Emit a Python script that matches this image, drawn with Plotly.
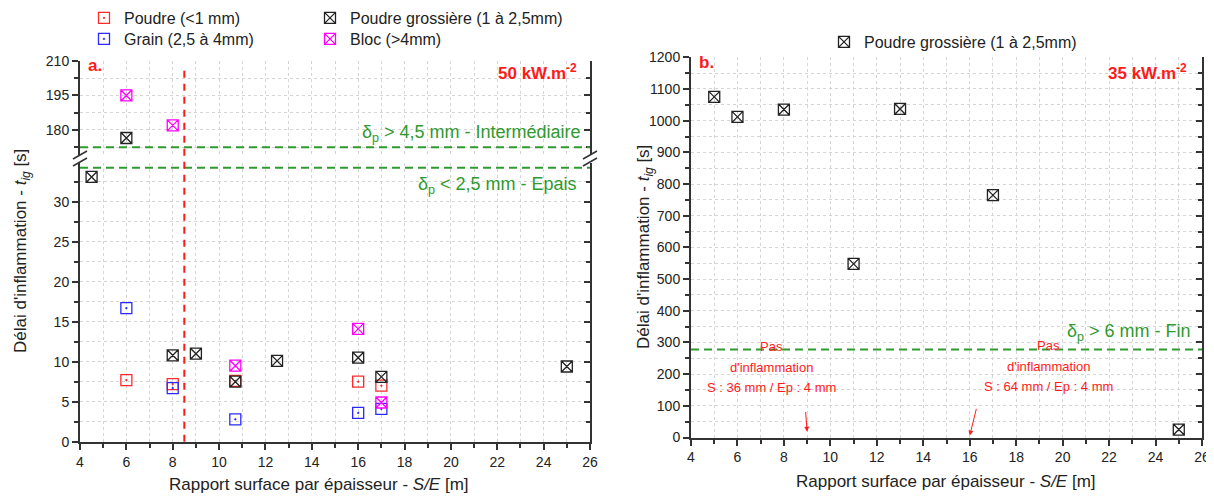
import plotly.graph_objects as go

# ---------------- data ----------------
# Panel a (50 kW.m-2)
poudre_x = [6, 8, 10.7, 16, 17]
poudre_y = [7.7, 7.2, 7.6, 7.5, 7.0]
grain_x = [6, 8, 10.7, 16, 17]
grain_y = [16.7, 6.7, 2.8, 3.6, 4.1]
grossiere_x = [4.5, 6, 8, 9, 10.7, 12.5, 16, 17, 25]
grossiere_y = [33.1, 176.5, 10.8, 11.0, 7.5, 10.1, 10.5, 8.1, 9.4]
bloc_x = [6, 8, 10.7, 16, 17]
bloc_y = [195, 182, 9.5, 14.1, 4.9]
# Panel b (35 kW.m-2)
b_x = [5, 6, 8, 11, 13, 17, 25]
b_y = [1075, 1012, 1035, 548, 1037, 765, 25]

x_ticks = [4, 6, 8, 10, 12, 14, 16, 18, 20, 22, 24, 26]
break_value = 100  # values above go on the upper (broken) segment
limit_a_upper = 172.5   # δp > 4,5 mm
limit_a_lower = 34.25   # δp < 2,5 mm
limit_b = 278           # δp > 6 mm
critical_x = 8.5

# page body has an 8px margin: figure is shifted, so map page pixels accordingly
OFF = 8
W, H = 1214 - OFF, 497 - OFF
def PX(x):
    return (x - OFF) / W
def PY(y):
    return 1 - (y - OFF) / H

FONT = "Liberation Sans, Arial, sans-serif"
GREEN = "#2f9a2f"
RED = "#ff1a1a"
GRID = "#d4d4d4"
AX = "#333333"

fig = go.Figure()

series = [
    ("Poudre (<1 mm)", poudre_x, poudre_y, "square-open-dot", "#ff2a2a", "legend"),
    ("Grain (2,5 à 4mm)", grain_x, grain_y, "square-open-dot", "#2a2aff", "legend4"),
    ("Poudre grossière (1 à 2,5mm)", grossiere_x, grossiere_y, "square-x-open", "#222222", "legend3"),
    ("Bloc (>4mm)", bloc_x, bloc_y, "square-x-open", "#ff00ff", "legend5"),
]
for name, xs, ys, sym, col, leg in series:
    lx = [x for x, y in zip(xs, ys) if y < break_value]
    ly = [y for y in ys if y < break_value]
    ux = [x for x, y in zip(xs, ys) if y >= break_value]
    uy = [y for y in ys if y >= break_value]
    fig.add_trace(go.Scatter(x=lx, y=ly, mode="markers", name=name, legend=leg,
                             marker=dict(symbol=sym, size=11, color=col, line=dict(width=1.3, color=col)),
                             xaxis="x", yaxis="y"))
    fig.add_trace(go.Scatter(x=ux, y=uy, mode="markers", name=name, showlegend=False,
                             marker=dict(symbol=sym, size=11, color=col, line=dict(width=1.3, color=col)),
                             xaxis="x", yaxis="y3"))

fig.add_trace(go.Scatter(x=b_x, y=b_y, mode="markers", name="Poudre grossière (1 à 2,5mm)",
                         legend="legend2",
                         marker=dict(symbol="square-x-open", size=11, color="#222222",
                                     line=dict(width=1.3, color="#222222")),
                         xaxis="x2", yaxis="y2"))

# empty traces to activate the mirrored right-side axes
for ya, xa in (("y4", "x"), ("y5", "x"), ("y6", "x2")):
    fig.add_trace(go.Scatter(x=[], y=[], xaxis=xa, yaxis=ya, showlegend=False, hoverinfo="skip"))

tickfont = dict(family=FONT, size=14, color="#222")

def xax(domain, anchor):
    return dict(domain=domain, range=[4, 26], anchor=anchor, tickvals=x_ticks,
                ticks="outside", ticklen=6, tickwidth=1.5, tickcolor=AX,
                showline=True, linecolor=AX, linewidth=2, zeroline=False,
                showgrid=True, gridcolor=GRID, griddash="dot", gridwidth=1,
                minor=dict(dtick=1, tick0=4, ticks="outside", ticklen=4, tickwidth=1.5, tickcolor=AX,
                           showgrid=True, gridcolor=GRID, griddash="dot"),
                tickfont=tickfont, fixedrange=True)

def yax(domain, rng, anchor, tick0, dtick, mdtick):
    return dict(domain=domain, range=rng, anchor=anchor, tick0=tick0, dtick=dtick,
                ticks="outside", ticklen=6, tickwidth=1.5, tickcolor=AX,
                showline=True, linecolor=AX, linewidth=2, zeroline=False,
                showgrid=True, gridcolor=GRID, griddash="dot", gridwidth=1,
                minor=dict(dtick=mdtick, tick0=tick0, ticks="outside", ticklen=4, tickwidth=1.5,
                           tickcolor=AX, showgrid=True, gridcolor=GRID, griddash="dot"),
                tickfont=tickfont, fixedrange=True)

def yright(over, rng, anchor, tick0, dtick, mdtick):
    return dict(overlaying=over, side="right", anchor=anchor, range=rng, tick0=tick0, dtick=dtick,
                ticks="inside", ticklen=6, tickwidth=1.5, tickcolor=AX, showticklabels=False,
                showline=True, linecolor=AX, linewidth=2, zeroline=False, showgrid=False,
                minor=dict(dtick=mdtick, tick0=tick0, ticks="inside", ticklen=4, tickwidth=1.5,
                           tickcolor=AX, showgrid=False), fixedrange=True)

lower_rng = [0, 34.84]
upper_rng = [169.1, 210]
b_rng = [0, 1200]

def leg(x, ytop):
    return dict(x=PX(x), y=PY(ytop), xanchor="left", yanchor="top", bgcolor="rgba(0,0,0,0)",
                borderwidth=0, font=dict(family=FONT, size=16, color="#222"), tracegroupgap=0)

fig.update_layout(
    width=W, height=H,
    margin=dict(l=0, r=0, t=0, b=0, autoexpand=False),
    paper_bgcolor="white", plot_bgcolor="white",
    font=dict(family=FONT, color="#222"),
    xaxis=xax([PX(80), PX(590)], "y"),
    yaxis=yax([PY(441.7), PY(163)], lower_rng, "x", 0, 5, 2.5),
    yaxis3=yax([PY(155), PY(61)], upper_rng, "x", 180, 15, 7.5),
    xaxis2=xax([PX(691), PX(1202)], "y2"),
    yaxis2=yax([PY(437.5), PY(57.3)], b_rng, "x2", 0, 100, 50),
    yaxis4=yright("y", lower_rng, "x", 0, 5, 2.5),
    yaxis5=yright("y3", upper_rng, "x", 180, 15, 7.5),
    yaxis6=yright("y2", b_rng, "x2", 0, 100, 50),
    legend=leg(84, 1),
    legend4=leg(84, 22),
    legend3=leg(310, 1),
    legend5=leg(310, 22),
    legend2=leg(824, 25),
    showlegend=True,
)

shapes = []
# green limit lines
shapes.append(dict(type="line", xref="x domain", yref="y3", x0=0, x1=1, y0=limit_a_upper, y1=limit_a_upper,
                   line=dict(color=GREEN, width=2, dash="8px,5px")))
shapes.append(dict(type="line", xref="x domain", yref="y", x0=0, x1=1, y0=limit_a_lower, y1=limit_a_lower,
                   line=dict(color=GREEN, width=2, dash="8px,5px")))
shapes.append(dict(type="line", xref="x2 domain", yref="y2", x0=0, x1=1, y0=limit_b, y1=limit_b,
                   line=dict(color=GREEN, width=2, dash="8px,5px")))
# red critical line
shapes.append(dict(type="line", xref="x", yref="paper", x0=critical_x, x1=critical_x,
                   y0=PY(441.7), y1=PY(68), line=dict(color=RED, width=2, dash="7px,6px")))
# axis break marks
for bx in (80, 590):
    for by in (155, 162):
        shapes.append(dict(type="line", xref="paper", yref="paper",
                           x0=PX(bx - 7), y0=PY(by + 4), x1=PX(bx + 7), y1=PY(by - 4),
                           line=dict(color=AX, width=1.5)))
fig.update_layout(shapes=shapes)

ann = []
def txt(x, y, text, size, color, xanchor="center", yanchor="middle", xref="paper", yref="paper",
        bold=False, angle=0):
    if bold:
        text = "<b>" + text + "</b>"
    ann.append(dict(x=x, y=y, xref=xref, yref=yref, text=text, showarrow=False, xanchor=xanchor,
                    yanchor=yanchor, textangle=angle, font=dict(family=FONT, size=size, color=color)))

txt(PX(86), PY(65), "a.", 17, RED, xanchor="left", bold=True)
txt(PX(579), PY(72), "50 kW.m<sup>-2</sup>", 17, RED, xanchor="right", bold=True)
txt(PX(697), PY(63), "b.", 17, RED, xanchor="left", bold=True)
txt(PX(1189), PY(72), "35 kW.m<sup>-2</sup>", 17, RED, xanchor="right", bold=True)

txt(PX(583), PY(133), "δ<sub>p</sub> &gt; 4,5 mm - Intermédiaire", 18, GREEN, xanchor="right")
txt(PX(579), PY(185), "δ<sub>p</sub> &lt; 2,5 mm - Epais", 18, GREEN, xanchor="right")
txt(PX(1193), PY(332), "δ<sub>p</sub> &gt; 6 mm - Fin", 18, GREEN, xanchor="right")

# "pas d'inflammation" notes
for cx, ys, s in ((7.45, (286, 220, 158), "S : 36 mm / Ep : 4 mm"),
                  (19.4, (289, 225, 162), "S : 64 mm / Ep : 4 mm")):
    for yy, t in zip(ys, ("Pas", "d'inflammation", s)):
        txt(cx, yy, t, 13, RED, xref="x2", yref="y2")

for (tx, ty, sx, sy) in ((9.0, 18, 8.93, 85), (16.0, 6, 16.3, 95)):
    ann.append(dict(x=tx, y=ty, ax=sx, ay=sy, xref="x2", yref="y2", axref="x2", ayref="y2",
                    text="", showarrow=True, arrowhead=2, arrowsize=1, arrowwidth=1, arrowcolor=RED))

# axis titles
xt = "Rapport surface par épaisseur - <i>S/E</i> [m]"
yt = "Délai d'inflammation - <i>t<sub>ig</sub></i> [s]"
txt(PX(319), PY(484), xt, 17, "#222")
txt(PX(946), PY(481), xt, 17, "#222")
txt(PX(22), PY(251), yt, 17, "#222", angle=-90)
txt(PX(645), PY(247), yt, 17, "#222", angle=-90)

fig.update_layout(annotations=ann)
fig.write_html("out.html")
